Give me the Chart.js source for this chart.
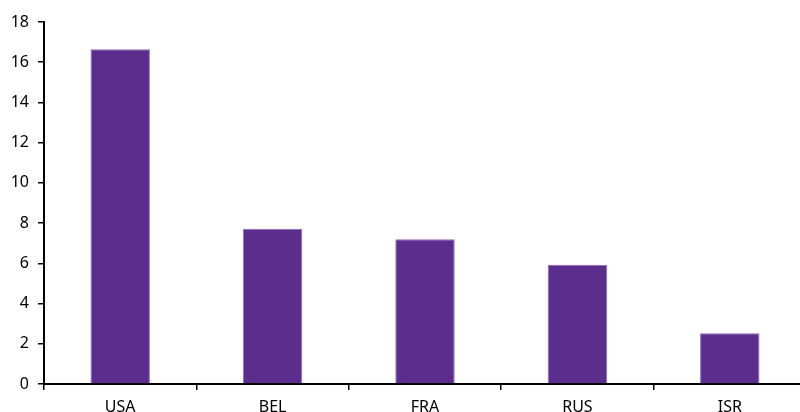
<!DOCTYPE html>
<html>
<head>
<meta charset="utf-8">
<script src="https://cdn.jsdelivr.net/npm/chart.js@4"></script>
<style>
  html, body { margin: 0; padding: 0; background: #fff; overflow: hidden; }
  #wrap { width: 806px; height: 412px; }
</style>
</head>
<body>
<div id="wrap"><canvas id="chart" width="806" height="412"></canvas></div>
<script>
// values
const categories = ['USA', 'BEL', 'FRA', 'RUS', 'ISR'];
const values = [16.65, 7.72, 7.2, 5.93, 2.52];
const yMin = 0;
const yMax = 18;
const yStep = 2;

const FONT = { family: "'Noto Sans', 'DejaVu Sans', sans-serif", size: 16 };

new Chart(document.getElementById('chart'), {
  type: 'bar',
  data: {
    labels: categories,
    datasets: [{
      data: values,
      backgroundColor: '#5B2D8D',
      borderColor: '#8E6BB5',
      borderWidth: 1,
      categoryPercentage: 1,
      barPercentage: 0.39
    }]
  },
  options: {
    responsive: false,
    animation: false,
    layout: { padding: { top: 22, right: 0, left: 0, bottom: 0 } },
    plugins: { legend: { display: false }, tooltip: { enabled: false } },
    scales: {
      x: {
        offset: true,
        grid: { offset: true, drawOnChartArea: false, tickLength: 6, color: '#000', lineWidth: 1.5 },
        border: { color: '#000', width: 2 },
        ticks: { color: '#000', font: FONT, padding: 8 },
        afterFit: s => { s.height = 28; }
      },
      y: {
        min: yMin,
        max: yMax,
        grid: { drawOnChartArea: false, tickLength: 6, color: '#000', lineWidth: 1.5 },
        border: { color: '#000', width: 2 },
        ticks: { stepSize: yStep, color: '#000', font: FONT, padding: 9 },
        afterFit: s => { s.width = 44; }
      }
    }
  }
});
</script>
</body>
</html>
